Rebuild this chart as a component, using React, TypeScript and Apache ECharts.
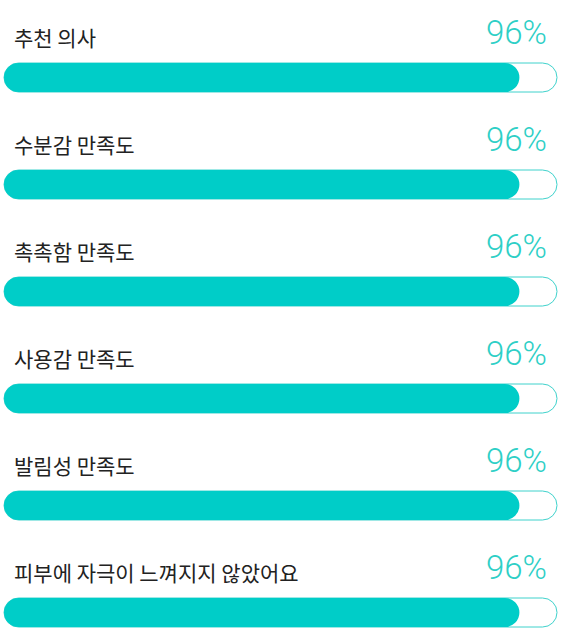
import { useEffect, useRef } from 'react';
import * as echarts from 'echarts';

const categories = [
  '추천 의사',
  '수분감 만족도',
  '촉촉함 만족도',
  '사용감 만족도',
  '발림성 만족도',
  '피부에 자극이 느껴지지 않았어요',
];
const scores = [96, 96, 96, 96, 96, 96];
const scoreLabels = scores.map((s) => `${s}%`);

export default function App() {
  const chartRef = useRef<HTMLDivElement>(null);

  useEffect(() => {
    if (!chartRef.current) return;
    document.body.style.margin = '0';

    const chart = echarts.init(chartRef.current, null, { renderer: 'svg' });
    const teal = '#00cdc8';

    chart.setOption({
      animation: false,
      // grid runs past the bottom edge so rows sit 107px apart
      grid: { left: 4, right: 5, top: 24, height: 642, outerBoundsMode: 'none' },
      xAxis: {
        type: 'value',
        min: 0,
        max: 103,
        show: false,
      },
      yAxis: {
        type: 'category',
        data: categories,
        inverse: true,
        show: false,
      },
      series: [
        {
          type: 'bar',
          data: scores,
          barWidth: 29,
          itemStyle: { color: teal, borderRadius: 14.5 },
          showBackground: true,
          backgroundStyle: {
            color: '#ffffff',
            borderColor: '#3fd2cc',
            borderWidth: 1,
            borderRadius: 14.5,
          },
          label: {
            show: true,
            position: [10, -26],
            align: 'left',
            verticalAlign: 'middle',
            width: 533,
            formatter: (p: any) =>
              `{name|${p.name}}{pct|${scoreLabels[p.dataIndex]}}`,
            rich: {
              name: {
                fontSize: 21,
                color: '#222',
                fontFamily: '"Noto Sans CJK KR", "Noto Sans", sans-serif',
              },
              pct: {
                align: 'right',
                fontSize: 33,
                fontWeight: 300,
                color: '#2ecfc6',
                fontFamily: 'Roboto, "Open Sans", sans-serif',
                padding: [0, 0, 9, 0],
              },
            },
          },
        },
      ],
    });

    return () => {
      chart.dispose();
    };
  }, []);

  return <div ref={chartRef} style={{ width: 562, height: 642 }} />;
}
